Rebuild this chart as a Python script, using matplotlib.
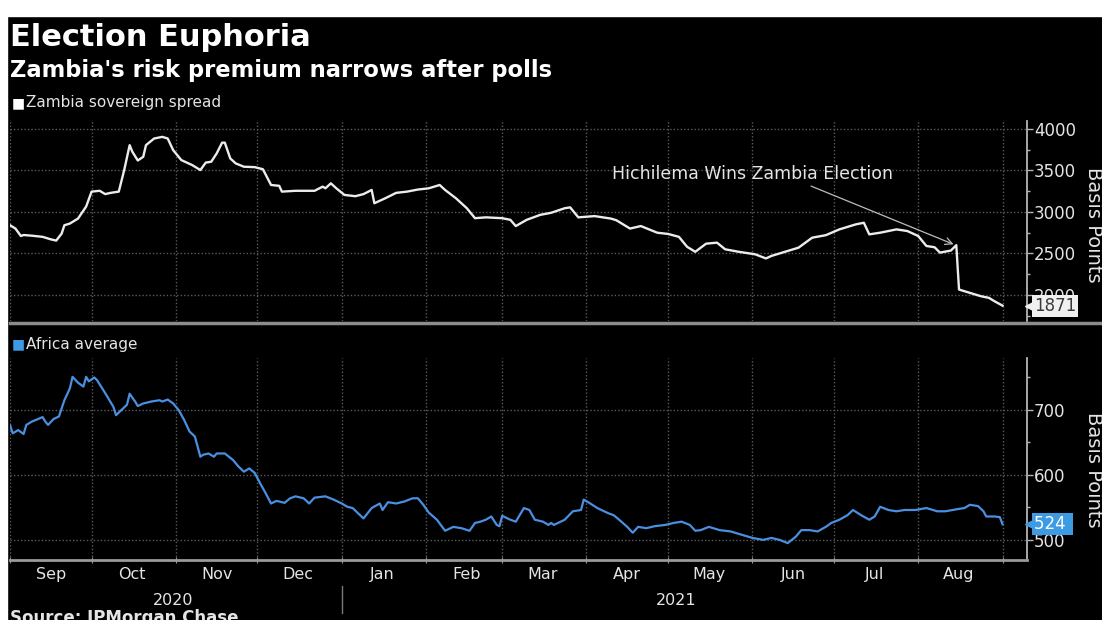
import matplotlib
matplotlib.use("Agg")
import matplotlib.pyplot as plt
import matplotlib.dates as mdates
import matplotlib.transforms as mtransforms
from matplotlib.lines import Line2D
from matplotlib.patches import Rectangle
from matplotlib.ticker import MultipleLocator, NullFormatter
import pandas as pd

# Zambia sovereign spread (basis points)
zambia_dates = [
    "2020-09-01", "2020-09-03", "2020-09-05", "2020-09-06", "2020-09-09", "2020-09-13",
    "2020-09-16", "2020-09-18", "2020-09-20", "2020-09-21", "2020-09-23", "2020-09-26",
    "2020-09-29", "2020-10-01", "2020-10-04", "2020-10-06", "2020-10-08", "2020-10-11",
    "2020-10-13", "2020-10-15", "2020-10-16", "2020-10-18", "2020-10-20", "2020-10-21",
    "2020-10-24", "2020-10-27", "2020-10-29", "2020-10-31", "2020-11-03", "2020-11-07",
    "2020-11-10", "2020-11-12", "2020-11-14", "2020-11-16", "2020-11-18", "2020-11-19",
    "2020-11-21", "2020-11-23", "2020-11-26", "2020-11-30", "2020-12-03", "2020-12-06",
    "2020-12-09", "2020-12-10", "2020-12-15", "2020-12-22", "2020-12-25", "2020-12-26",
    "2020-12-28", "2020-12-30", "2021-01-02", "2021-01-06", "2021-01-09", "2021-01-12",
    "2021-01-13", "2021-01-17", "2021-01-21", "2021-01-25", "2021-01-29", "2021-02-02",
    "2021-02-06", "2021-02-08", "2021-02-12", "2021-02-16", "2021-02-19", "2021-02-23",
    "2021-03-01", "2021-03-04", "2021-03-06", "2021-03-10", "2021-03-15", "2021-03-19",
    "2021-03-24", "2021-03-26", "2021-03-29", "2021-04-04", "2021-04-10", "2021-04-12",
    "2021-04-17", "2021-04-21", "2021-04-27", "2021-05-01", "2021-05-05", "2021-05-08",
    "2021-05-11", "2021-05-15", "2021-05-19", "2021-05-22", "2021-05-27", "2021-06-02",
    "2021-06-06", "2021-06-08", "2021-06-13", "2021-06-18", "2021-06-23", "2021-06-28",
    "2021-07-03", "2021-07-09", "2021-07-12", "2021-07-14", "2021-07-18", "2021-07-24",
    "2021-07-28", "2021-08-01", "2021-08-04", "2021-08-07", "2021-08-09", "2021-08-13",
    "2021-08-15", "2021-08-16", "2021-08-19", "2021-08-24", "2021-08-27", "2021-08-29",
    "2021-09-01",
]
zambia_bps = [
    2840, 2800, 2710, 2722, 2714, 2700,
    2670, 2655, 2740, 2840, 2860, 2920,
    3065, 3245, 3255, 3215, 3230, 3245,
    3505, 3805, 3725, 3620, 3665, 3805,
    3885, 3905, 3885, 3745, 3625, 3565,
    3505, 3595, 3605, 3705, 3835, 3835,
    3645, 3585, 3545, 3540, 3515, 3325,
    3315, 3245, 3255, 3255, 3305, 3285,
    3345, 3285, 3205, 3190, 3215, 3265,
    3105, 3165, 3230, 3245, 3270, 3285,
    3325, 3265, 3165, 3045, 2925, 2935,
    2925, 2905, 2830, 2905, 2965, 2990,
    3045, 3055, 2935, 2950, 2920, 2900,
    2800, 2830, 2750, 2735, 2700, 2580,
    2520, 2618, 2630, 2550, 2520, 2490,
    2440, 2470, 2520, 2570, 2690, 2720,
    2790, 2850, 2870, 2730, 2750, 2790,
    2770, 2710, 2590, 2575, 2510, 2535,
    2600, 2065, 2035, 1985, 1965, 1925,
    1871,
]

# Africa average spread (basis points)
africa_dates = [
    "2020-09-01", "2020-09-02", "2020-09-04", "2020-09-06", "2020-09-07", "2020-09-09",
    "2020-09-13", "2020-09-14", "2020-09-15", "2020-09-17", "2020-09-19", "2020-09-21",
    "2020-09-23", "2020-09-24", "2020-09-26", "2020-09-28", "2020-09-29", "2020-09-30",
    "2020-10-02", "2020-10-03", "2020-10-06", "2020-10-09", "2020-10-10", "2020-10-12",
    "2020-10-14", "2020-10-15", "2020-10-17", "2020-10-18", "2020-10-20", "2020-10-23",
    "2020-10-26", "2020-10-27", "2020-10-29", "2020-10-31", "2020-11-02", "2020-11-04",
    "2020-11-06", "2020-11-08", "2020-11-10", "2020-11-11", "2020-11-13", "2020-11-15",
    "2020-11-16", "2020-11-19", "2020-11-22", "2020-11-24", "2020-11-26", "2020-11-28",
    "2020-11-30", "2020-12-02", "2020-12-04", "2020-12-06", "2020-12-08", "2020-12-11",
    "2020-12-13", "2020-12-15", "2020-12-18", "2020-12-20", "2020-12-22", "2020-12-26",
    "2020-12-29", "2021-01-01", "2021-01-03", "2021-01-05", "2021-01-09", "2021-01-12",
    "2021-01-15", "2021-01-16", "2021-01-18", "2021-01-21", "2021-01-24", "2021-01-27",
    "2021-01-29", "2021-01-31", "2021-02-02", "2021-02-05", "2021-02-08", "2021-02-11",
    "2021-02-14", "2021-02-17", "2021-02-19", "2021-02-21", "2021-02-23", "2021-02-25",
    "2021-02-27", "2021-02-28", "2021-03-01", "2021-03-04", "2021-03-06", "2021-03-09",
    "2021-03-11", "2021-03-13", "2021-03-16", "2021-03-18", "2021-03-19", "2021-03-20",
    "2021-03-24", "2021-03-27", "2021-03-30", "2021-03-31", "2021-04-02", "2021-04-05",
    "2021-04-09", "2021-04-11", "2021-04-13", "2021-04-16", "2021-04-18", "2021-04-20",
    "2021-04-23", "2021-04-26", "2021-04-30", "2021-05-03", "2021-05-06", "2021-05-09",
    "2021-05-11", "2021-05-13", "2021-05-16", "2021-05-20", "2021-05-24", "2021-05-28",
    "2021-06-01", "2021-06-05", "2021-06-08", "2021-06-11", "2021-06-14", "2021-06-17",
    "2021-06-19", "2021-06-22", "2021-06-25", "2021-06-28", "2021-06-30", "2021-07-03",
    "2021-07-06", "2021-07-08", "2021-07-11", "2021-07-14", "2021-07-16", "2021-07-18",
    "2021-07-21", "2021-07-24", "2021-07-27", "2021-07-31", "2021-08-04", "2021-08-08",
    "2021-08-11", "2021-08-15", "2021-08-18", "2021-08-20", "2021-08-23", "2021-08-25",
    "2021-08-26", "2021-08-29", "2021-08-31", "2021-09-01",
]
africa_bps = [
    677, 664, 669, 663, 677, 682,
    689, 682, 677, 686, 690, 715,
    733, 751, 742, 736, 751, 744,
    750, 746, 726, 705, 692, 700,
    708, 725, 713, 706, 710, 713,
    715, 713, 716, 710, 700, 685,
    667, 659, 628, 631, 633, 628,
    633, 633, 623, 613, 605, 610,
    603, 587, 572, 556, 560, 557,
    564, 567, 564, 556, 565, 567,
    562, 556, 551, 549, 533, 549,
    556, 546, 558, 556, 559, 564,
    564, 554, 542, 531, 514, 520,
    518, 514, 526, 528, 531, 536,
    523, 521, 537, 531, 528, 549,
    546, 531, 528, 523, 526, 523,
    531, 544, 546, 562, 557, 549,
    541, 538, 531, 520, 511, 520,
    518, 521, 523, 526, 528, 523,
    514, 515, 520, 515, 513, 508,
    503, 500, 503, 500, 495, 505,
    515, 515, 513, 520, 526, 531,
    538, 546, 538, 531, 536, 551,
    546, 544, 546, 546, 549, 544,
    544, 547, 549, 554, 552, 544,
    536, 536, 535, 524,
]

W, H = 1102, 620
WHITE = "#ececec"
BLUE = "#4a8fe0"
GRID = "#5a5a5a"
TXT = "#e4e4e4"


def fx(px: float) -> float:
    return px / W


def fy(py: float) -> float:
    return 1 - py / H


def style_panel(ax, major: float, minor: float) -> None:
    ax.set_facecolor("black")
    for side in ("top", "left", "bottom"):
        ax.spines[side].set_visible(False)
    ax.spines["right"].set_color("#b5b5b5")
    ax.spines["right"].set_linewidth(1.3)
    ax.yaxis.tick_right()
    ax.yaxis.set_major_locator(MultipleLocator(major))
    ax.yaxis.set_minor_locator(MultipleLocator(minor))
    ax.tick_params(axis="y", which="major", direction="out", length=4, width=1,
                   color="#b5b5b5", labelcolor=TXT, labelsize=12, pad=1)
    ax.tick_params(axis="y", which="minor", direction="out", length=2.5, width=1,
                   color="#b5b5b5")
    ax.xaxis.set_major_locator(mdates.MonthLocator())
    ax.grid(axis="x", which="major", color=GRID, linestyle=(0, (1, 1.5)), linewidth=1)
    ax.grid(axis="y", which="major", color=GRID, linestyle=(0, (1, 1.5)), linewidth=1)
    ax.set_axisbelow(True)
    ax.set_xlim(pd.Timestamp("2020-09-01"), pd.Timestamp("2021-09-10"))


def value_tag(ax, value: float, text: str, face: str, fg: str) -> None:
    trans = mtransforms.blended_transform_factory(ax.transAxes, ax.transData)
    ax.plot([1.004], [value], marker="<", markersize=8, color=face,
            transform=trans, clip_on=False, zorder=6)
    ax.text(1.007, value, text, transform=trans, ha="left", va="center",
            fontsize=12, color=fg, zorder=7,
            bbox=dict(boxstyle="square,pad=0.12", fc=face, ec="none"))


fig = plt.figure(figsize=(W / 100, H / 100), dpi=100, facecolor="black")
fig.patches.append(Rectangle((0, fy(16)), 1, 16 / H, transform=fig.transFigure,
                             color="white", zorder=-1))
fig.patches.append(Rectangle((0, 0), 7 / W, 1, transform=fig.transFigure,
                             color="white", zorder=-1))

ax1 = fig.add_axes([fx(10), fy(321), fx(1027) - fx(10), (321 - 121) / H])
ax2 = fig.add_axes([fx(10), fy(560), fx(1027) - fx(10), (560 - 358) / H])

style_panel(ax1, 500, 250)
style_panel(ax2, 100, 50)

ax1.plot(pd.to_datetime(zambia_dates), zambia_bps, color=WHITE, lw=1.7, zorder=3)
ax1.set_ylim(1686, 4096)
ax1.tick_params(axis="x", which="both", length=0, labelbottom=False)

ax2.plot(pd.to_datetime(africa_dates), africa_bps, color=BLUE, lw=1.6, zorder=3)
ax2.set_ylim(469, 780)
ax2.spines["bottom"].set_visible(True)
ax2.spines["bottom"].set_color("#9a9a9a")
ax2.spines["bottom"].set_linewidth(2)
ax2.xaxis.set_major_formatter(NullFormatter())
ax2.xaxis.set_minor_locator(mdates.MonthLocator(bymonthday=16))
ax2.xaxis.set_minor_formatter(mdates.DateFormatter("%b"))
ax2.tick_params(axis="x", which="major", direction="inout", length=5, color="#9a9a9a")
ax2.tick_params(axis="x", which="minor", length=0, labelsize=11.5, labelcolor=TXT, pad=5)

# year row under the months
yr = mtransforms.blended_transform_factory(ax2.transData, ax2.transAxes)
ax2.text(pd.Timestamp("2020-10-31"), -0.2, "2020", transform=yr, ha="center",
         va="center", fontsize=11.5, color=TXT)
ax2.text(pd.Timestamp("2021-05-04"), -0.2, "2021", transform=yr, ha="center",
         va="center", fontsize=11.5, color=TXT)
ax2.plot([pd.Timestamp("2021-01-01")] * 2, [-0.13, -0.26], transform=yr,
         color="#7a7a7a", lw=1, clip_on=False)

# tags for the last values
value_tag(ax1, zambia_bps[-1], f"{zambia_bps[-1]}", "#f0f0f0", "#3a3a3a")
value_tag(ax2, africa_bps[-1], f"{africa_bps[-1]} ", "#3d9be3", "white")

ax1.annotate(
    "Hichilema Wins Zambia Election",
    xy=(pd.Timestamp("2021-08-14"), 2610),
    xytext=(pd.Timestamp("2021-06-01"), 3460),
    ha="center", va="center", fontsize=12.5, color=TXT, zorder=5,
    arrowprops=dict(arrowstyle="->", color="#bdbdbd", lw=0.9,
                    relpos=(0.68, 0.0), shrinkA=1, shrinkB=0),
)

# panel divider
fig.add_artist(Line2D([fx(10), 1], [fy(323), fy(323)], color="#8c8c8c", lw=2.5))

fig.text(fx(1094), fy(225), "Basis Points", rotation=270, ha="center", va="center",
         fontsize=14, color=TXT)
fig.text(fx(1094), fy(470), "Basis Points", rotation=270, ha="center", va="center",
         fontsize=14, color=TXT)

fig.text(fx(10), fy(37), "Election Euphoria", fontsize=22, fontweight="bold",
         color="white", va="center")
fig.text(fx(10), fy(70), "Zambia's risk premium narrows after polls", fontsize=16.3,
         fontweight="bold", color="white", va="center")

fig.text(fx(12), fy(103), "■", fontsize=10, color="white", va="center")
fig.text(fx(26), fy(103), "Zambia sovereign spread", fontsize=11, color=TXT, va="center")
fig.text(fx(12), fy(344), "■", fontsize=10, color="#3d9be3", va="center")
fig.text(fx(26), fy(344), "Africa average", fontsize=11, color=TXT, va="center")

fig.text(fx(10), fy(609), "Source: JPMorgan Chase", fontsize=12, fontweight="bold",
         color=TXT, va="top")

fig.savefig("out.png", dpi=100, facecolor=fig.get_facecolor())
